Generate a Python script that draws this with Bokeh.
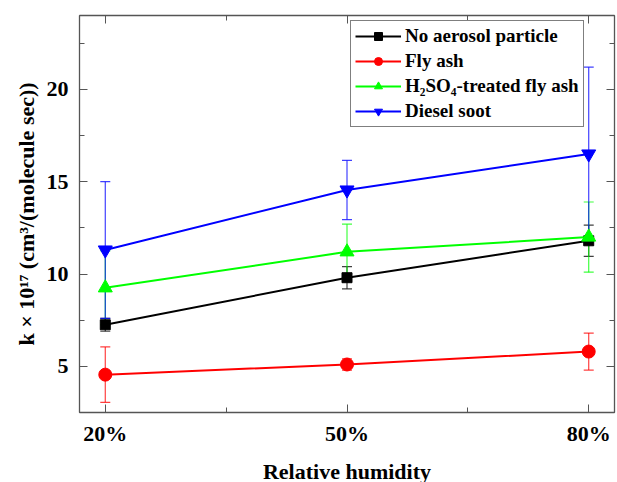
from bokeh.plotting import figure
from bokeh.models import Range1d, LinearAxis, FixedTicker, Whisker, ColumnDataSource, Legend, LegendItem, TeeHead
from bokeh.embed import file_html
from bokeh.resources import INLINE

humidity = [20, 50, 80]
tick_labels = {20: "20%", 50: "50%", 80: "80%"}

no_aerosol = [7.25, 9.8, 11.8]
no_aerosol_err = [0.35, 0.6, 0.85]
fly_ash = [4.55, 5.1, 5.8]
fly_ash_err = [1.5, 0.3, 1.0]
h2so4_ash = [9.25, 11.2, 12.0]
h2so4_ash_err = [2.0, 1.5, 1.9]
diesel = [11.3, 14.55, 16.5]
diesel_err = [3.7, 1.6, 4.7]

series = [
    ("No aerosol particle", no_aerosol, no_aerosol_err, "#000000", "square", 10),
    ("Fly ash", fly_ash, fly_ash_err, "#ff0000", "circle", 13),
    ("H₂SO₄-treated fly ash", h2so4_ash, h2so4_ash_err, "#00ff00", "triangle", 14),
    ("Diesel soot", diesel, diesel_err, "#0000ff", "inverted_triangle", 14),
]

FONT = "Liberation Serif"
AX = "#555555"

p = figure(frame_width=535, frame_height=397, output_backend="svg", toolbar_location=None,
           x_range=Range1d(16.8, 83.2), y_range=Range1d(2.5, 24.0),
           min_border_left=79, min_border_right=3, min_border_top=15, min_border_bottom=67)
p.outline_line_color = AX
p.xgrid.visible = False
p.ygrid.visible = False

def style_axis(ax, ticks, minor, labels=True):
    ax.ticker = FixedTicker(ticks=ticks, minor_ticks=minor)
    ax.axis_line_color = AX
    ax.axis_line_width = 1.3
    ax.major_tick_line_color = AX
    ax.minor_tick_line_color = AX
    ax.major_tick_in = 8
    ax.major_tick_out = 0
    ax.minor_tick_in = 5
    ax.minor_tick_out = 0
    ax.major_label_text_font = FONT
    ax.major_label_text_font_style = "bold"
    ax.major_label_text_font_size = "22px"
    ax.major_label_text_color = "black"
    ax.axis_label_text_font = FONT
    ax.axis_label_text_font_style = "bold"
    ax.axis_label_text_font_size = "22px"
    ax.axis_label_text_color = "black"
    if not labels:
        ax.major_label_overrides = {t: "" for t in ticks}
        ax.major_label_standoff = 0

xt = [20, 50, 80]
xm = [35, 65]
yt = [5, 10, 15, 20]
ym = [2.5, 7.5, 12.5, 17.5, 22.5]

style_axis(p.xaxis[0], xt, xm)
p.xaxis[0].major_label_overrides = tick_labels
p.xaxis[0].axis_label = "Relative humidity"
p.xaxis[0].major_label_standoff = 8
p.xaxis[0].axis_label_standoff = 10
style_axis(p.yaxis[0], yt, ym)
p.yaxis[0].axis_label = "k × 10¹⁷ (cm³/(molecule sec))"
p.yaxis[0].major_label_standoff = 11
p.yaxis[0].axis_label_standoff = 5

top = LinearAxis()
style_axis(top, xt, xm, labels=False)
p.add_layout(top, "above")
right = LinearAxis()
style_axis(right, yt, ym, labels=False)
p.add_layout(right, "right")

items = []
for name, vals, errs, color, marker, size in series:
    src = ColumnDataSource(dict(x=humidity, y=vals,
                                lo=[v - e for v, e in zip(vals, errs)],
                                hi=[v + e for v, e in zip(vals, errs)]))
    ln = p.line("x", "y", source=src, line_color=color, line_width=2)
    sc = p.scatter("x", "y", source=src, marker=marker, size=size,
                   fill_color=color, line_color=color)
    w = Whisker(base="x", lower="lo", upper="hi", source=src,
                line_color=color, line_width=1.2, line_alpha=0.75,
                upper_head=TeeHead(size=10, line_color=color, line_width=1.2, line_alpha=0.75),
                lower_head=TeeHead(size=10, line_color=color, line_width=1.2, line_alpha=0.75))
    p.add_layout(w)
    items.append(LegendItem(label=name, renderers=[ln, sc]))

legend = Legend(items=items, location=(271, 285))
legend.label_text_font = FONT
legend.label_text_font_style = "bold"
legend.label_text_font_size = "19px"
legend.label_text_color = "black"
legend.glyph_width = 46
legend.glyph_height = 20
legend.label_height = 20
legend.spacing = 3
legend.padding = 4
legend.margin = 0
legend.label_standoff = 4
legend.border_line_color = "black"
legend.border_line_width = 1
legend.background_fill_alpha = 1
p.add_layout(legend, "center")

open("out.html", "w").write(file_html(p, INLINE))
